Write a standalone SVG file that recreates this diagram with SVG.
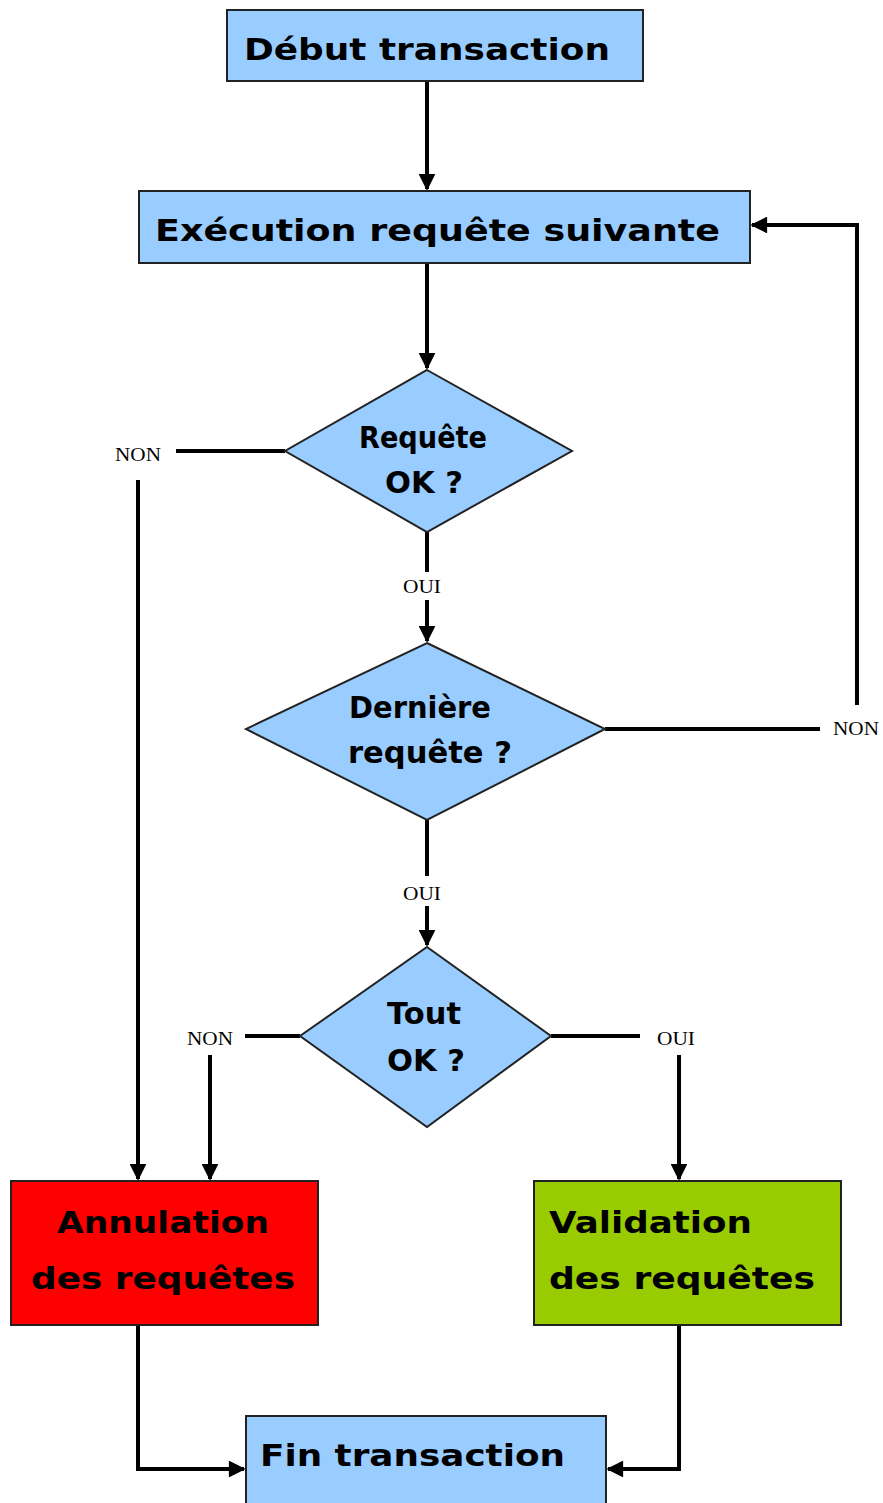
<svg xmlns="http://www.w3.org/2000/svg" width="883" height="1503" viewBox="0 0 883 1503">
<style>
.box{stroke:#222;stroke-width:2}
.blue{fill:#99ccff}
.t{font-family:"DejaVu Sans","Liberation Sans",sans-serif;font-weight:bold;font-size:31px;fill:#000}
.lbl{font-family:"Liberation Serif",serif;font-size:19px;fill:#000}
.c{stroke:#000;stroke-width:4;fill:none}
</style>
<defs>
<marker id="ah" viewBox="0 0 10 10" refX="9" refY="5" markerWidth="4.8" markerHeight="4.2" orient="auto" markerUnits="strokeWidth">
<path d="M0,0 L10,5 L0,10 z" fill="#000"/>
</marker>
</defs>
<rect width="883" height="1503" fill="#fff"/>
<g id="connectors">
<path class="c" d="M427,81 V189" marker-end="url(#ah)"/>
<path class="c" d="M427,263 V368" marker-end="url(#ah)"/>
<path class="c" d="M285,451 H176"/>
<path class="c" d="M138,480 V1179" marker-end="url(#ah)"/>
<path class="c" d="M427,532 V572"/>
<path class="c" d="M427,600 V641" marker-end="url(#ah)"/>
<path class="c" d="M605,729 H820"/>
<path class="c" d="M857,705 V225 H752" marker-end="url(#ah)"/>
<path class="c" d="M427,820 V876"/>
<path class="c" d="M427,906 V945" marker-end="url(#ah)"/>
<path class="c" d="M300,1036 H245"/>
<path class="c" d="M210,1055 V1179" marker-end="url(#ah)"/>
<path class="c" d="M551,1036 H640"/>
<path class="c" d="M679,1055 V1179" marker-end="url(#ah)"/>
<path class="c" d="M138,1325 V1469 H244" marker-end="url(#ah)"/>
<path class="c" d="M679,1325 V1469 H608" marker-end="url(#ah)"/>
<text class="lbl" x="138" y="461" text-anchor="middle" textLength="46" lengthAdjust="spacingAndGlyphs">NON</text>
<text class="lbl" x="422" y="593" text-anchor="middle" textLength="38" lengthAdjust="spacingAndGlyphs">OUI</text>
<text class="lbl" x="856" y="735" text-anchor="middle" textLength="46" lengthAdjust="spacingAndGlyphs">NON</text>
<text class="lbl" x="422" y="900" text-anchor="middle" textLength="38" lengthAdjust="spacingAndGlyphs">OUI</text>
<text class="lbl" x="210" y="1045" text-anchor="middle" textLength="46" lengthAdjust="spacingAndGlyphs">NON</text>
<text class="lbl" x="676" y="1045" text-anchor="middle" textLength="38" lengthAdjust="spacingAndGlyphs">OUI</text>
</g>
<g id="debut">
<rect class="box blue" x="227" y="10" width="416" height="71"/>
<text class="t" x="427" y="60" text-anchor="middle" textLength="366" lengthAdjust="spacingAndGlyphs">Début transaction</text>
</g>
<g id="execution">
<rect class="box blue" x="139" y="191" width="611" height="72"/>
<text class="t" x="155" y="241" textLength="565" lengthAdjust="spacingAndGlyphs">Exécution requête suivante</text>
</g>
<g id="requete-ok">
<polygon class="box blue" points="427,370 572,451 427,532 285,451"/>
<text class="t" x="423" y="448" text-anchor="middle" textLength="128" lengthAdjust="spacingAndGlyphs">Requête</text>
<text class="t" x="424" y="493" text-anchor="middle" textLength="78" lengthAdjust="spacingAndGlyphs">OK ?</text>
</g>
<g id="derniere">
<polygon class="box blue" points="427,643 605,729 427,820 246,729"/>
<text class="t" x="420" y="718" text-anchor="middle" textLength="142" lengthAdjust="spacingAndGlyphs">Dernière</text>
<text class="t" x="430" y="763" text-anchor="middle" textLength="164" lengthAdjust="spacingAndGlyphs">requête ?</text>
</g>
<g id="tout-ok">
<polygon class="box blue" points="427,947 551,1036 427,1127 300,1036"/>
<text class="t" x="424" y="1024" text-anchor="middle" textLength="74" lengthAdjust="spacingAndGlyphs">Tout</text>
<text class="t" x="426" y="1071" text-anchor="middle" textLength="78" lengthAdjust="spacingAndGlyphs">OK ?</text>
</g>
<g id="annulation">
<rect class="box" x="11" y="1181" width="307" height="144" fill="#ff0000"/>
<text class="t" x="163" y="1233" text-anchor="middle" textLength="212" lengthAdjust="spacingAndGlyphs">Annulation</text>
<text class="t" x="163" y="1289" text-anchor="middle" textLength="264" lengthAdjust="spacingAndGlyphs">des requêtes</text>
</g>
<g id="validation">
<rect class="box" x="534" y="1181" width="307" height="144" fill="#99cc00"/>
<text class="t" x="549" y="1233" textLength="203" lengthAdjust="spacingAndGlyphs">Validation</text>
<text class="t" x="549" y="1289" textLength="266" lengthAdjust="spacingAndGlyphs">des requêtes</text>
</g>
<g id="fin">
<rect class="box blue" x="246" y="1416" width="360" height="95"/>
<text class="t" x="260" y="1466" textLength="305" lengthAdjust="spacingAndGlyphs">Fin transaction</text>
</g>
</svg>
